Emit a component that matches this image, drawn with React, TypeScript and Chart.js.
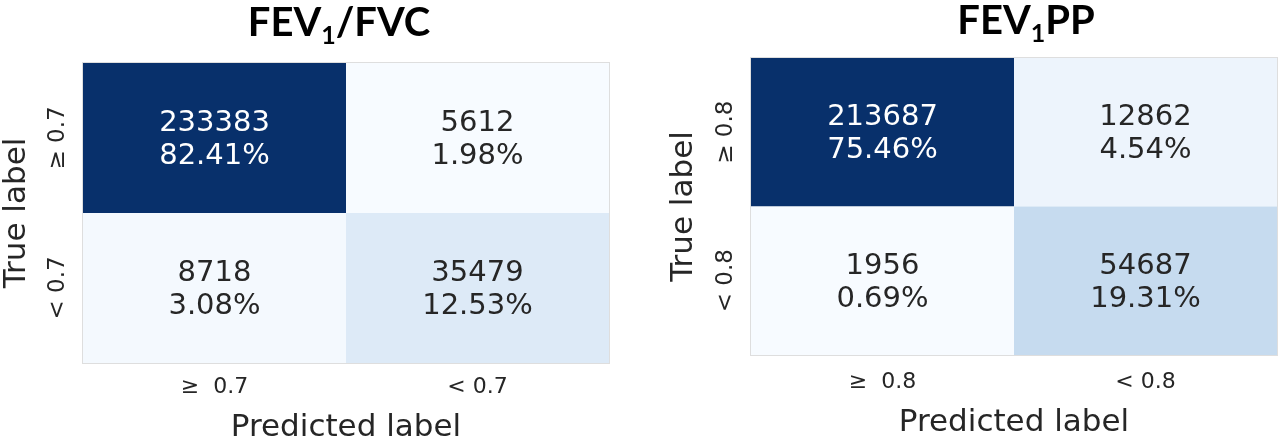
import { useEffect, useRef } from 'react';
import { Chart, registerables } from 'chart.js';

Chart.register(...registerables);

// ---- data ----
const leftTitleParts = ['FEV', '1', '/FVC'];
const rightTitleParts = ['FEV', '1', 'PP'];
const leftXLabels = ['≥  0.7', '< 0.7'];
const leftYLabels = ['≥ 0.7', '< 0.7'];
const rightXLabels = ['≥  0.8', '< 0.8'];
const rightYLabels = ['≥ 0.8', '< 0.8'];
const leftCounts = [
  [233383, 5612],
  [8718, 35479],
];
const leftPercents = [
  ['82.41%', '1.98%'],
  ['3.08%', '12.53%'],
];
const rightCounts = [
  [213687, 12862],
  [1956, 54687],
];
const rightPercents = [
  ['75.46%', '4.54%'],
  ['0.69%', '19.31%'],
];
const xAxisTitle = 'Predicted label';
const yAxisTitle = 'True label';

// ---- styles / layout ----
const BLUES = ['#f7fbff', '#deebf7', '#c6dbef', '#9ecae1', '#6baed6', '#4292c6', '#2171b5', '#08519c', '#08306b'];
const TEXT_DARK = '#262626';
const SANS = '"DejaVu Sans", sans-serif';
const TITLE_FONT = 'Lato, "Open Sans", sans-serif';

function hexToRgb(h: string) {
  const n = parseInt(h.slice(1), 16);
  return [(n >> 16) & 255, (n >> 8) & 255, n & 255];
}
function blues(t: number) {
  const tt = Math.max(0, Math.min(1, t)) * (BLUES.length - 1);
  const i = Math.min(BLUES.length - 2, Math.floor(tt));
  const f = tt - i;
  const a = hexToRgb(BLUES[i]);
  const b = hexToRgb(BLUES[i + 1]);
  const c = a.map((v, k) => v + (b[k] - v) * f);
  return { css: `rgb(${c[0].toFixed(0)},${c[1].toFixed(0)},${c[2].toFixed(0)})`, lum: (0.2126 * c[0] + 0.7152 * c[1] + 0.0722 * c[2]) / 255 };
}

type Panel = {
  titleParts: string[];
  xLabels: string[];
  yLabels: string[];
  counts: number[][];
  percents: string[][];
  padding: { left: number; top: number; right: number; bottom: number };
  titleBase: number;
  titleShift: number;
  xTickBase: number;
  xTitleBase: number;
  yTickBase: number;
  yTitleBase: number;
};

const panels: Panel[] = [
  {
    titleParts: leftTitleParts,
    xLabels: leftXLabels,
    yLabels: leftYLabels,
    counts: leftCounts,
    percents: leftPercents,
    padding: { left: 83, top: 63, right: 31, bottom: 78 },
    titleBase: 36,
    titleShift: -7,
    xTickBase: 393,
    xTitleBase: 436,
    yTickBase: 64,
    yTitleBase: 25,
  },
  {
    titleParts: rightTitleParts,
    xLabels: rightXLabels,
    yLabels: rightYLabels,
    counts: rightCounts,
    percents: rightPercents,
    padding: { left: 111, top: 58, right: 3, bottom: 86 },
    titleBase: 34,
    titleShift: 12,
    xTickBase: 388,
    xTitleBase: 431,
    yTickBase: 92,
    yTitleBase: 52,
  },
];

function heatPlugin(panel: Panel) {
  return {
    id: 'heat',
    afterDatasetsDraw(chart: any) {
      const ctx = chart.ctx as CanvasRenderingContext2D;
      const xs = chart.scales.x;
      const ys = chart.scales.y;
      const area = chart.chartArea;
      const cw = Math.abs(xs.getPixelForValue(1) - xs.getPixelForValue(0));
      const ch = Math.abs(ys.getPixelForValue(1) - ys.getPixelForValue(0));
      const all = panel.counts.flat();
      const mn = Math.min(...all);
      const mx = Math.max(...all);
      const meta = chart.getDatasetMeta(0);
      const raw = chart.data.datasets[0].data as any[];
      ctx.save();
      meta.data.forEach((el: any, i: number) => {
        const d = raw[i];
        const col = blues((d.v - mn) / (mx - mn));
        ctx.fillStyle = col.css;
        ctx.fillRect(el.x - cw / 2, el.y - ch / 2, cw, ch);
      });
      ctx.strokeStyle = '#dedede';
      ctx.lineWidth = 1;
      ctx.strokeRect(area.left - 0.5, area.top - 0.5, area.right - area.left + 1, area.bottom - area.top + 1);
      ctx.textAlign = 'center';
      ctx.textBaseline = 'alphabetic';
      ctx.font = `29px ${SANS}`;
      meta.data.forEach((el: any, i: number) => {
        const d = raw[i];
        const col = blues((d.v - mn) / (mx - mn));
        ctx.fillStyle = col.lum < 0.408 ? '#ffffff' : TEXT_DARK;
        ctx.fillText(String(d.v), el.x, el.y - 7);
        ctx.fillText(d.p, el.x, el.y + 26);
      });

      // x tick labels
      ctx.fillStyle = TEXT_DARK;
      ctx.font = `22px ${SANS}`;
      panel.xLabels.forEach((lab, i) => {
        ctx.fillText(lab, xs.getPixelForTick(i), panel.xTickBase);
      });
      // x title
      ctx.font = `31px ${SANS}`;
      ctx.fillText(xAxisTitle, (area.left + area.right) / 2, panel.xTitleBase);
      // y tick labels (rotated)
      ctx.font = `23px ${SANS}`;
      panel.yLabels.forEach((lab, i) => {
        ctx.save();
        ctx.translate(panel.yTickBase, ys.getPixelForTick(i));
        ctx.rotate(-Math.PI / 2);
        ctx.fillText(lab, 0, 0);
        ctx.restore();
      });
      // y title
      ctx.font = `31px ${SANS}`;
      ctx.save();
      ctx.translate(panel.yTitleBase, (area.top + area.bottom) / 2);
      ctx.rotate(-Math.PI / 2);
      ctx.fillText(yAxisTitle, 0, 0);
      ctx.restore();

      // title with subscript
      const mainFont = `bold 40px ${TITLE_FONT}`;
      const subFont = `bold 25px ${TITLE_FONT}`;
      const [a, s, b] = panel.titleParts;
      ctx.font = mainFont;
      const wa = ctx.measureText(a).width;
      const wb = ctx.measureText(b).width;
      ctx.font = subFont;
      const ws = ctx.measureText(s).width;
      const total = wa + ws + wb;
      let x0 = (area.left + area.right) / 2 + panel.titleShift - total / 2;
      ctx.textAlign = 'left';
      ctx.fillStyle = '#000000';
      ctx.font = mainFont;
      ctx.fillText(a, x0, panel.titleBase);
      x0 += wa;
      ctx.font = subFont;
      ctx.fillText(s, x0, panel.titleBase + 8);
      x0 += ws;
      ctx.font = mainFont;
      ctx.fillText(b, x0, panel.titleBase);
      ctx.restore();
    },
  };
}

function makeConfig(panel: Panel): any {
  const points: any[] = [];
  panel.yLabels.forEach((yl, r) => {
    panel.xLabels.forEach((xl, c) => {
      points.push({ x: xl, y: yl, v: panel.counts[r][c], p: panel.percents[r][c] });
    });
  });
  return {
    type: 'scatter',
    data: { datasets: [{ data: points, pointRadius: 0, pointHoverRadius: 0, showLine: false }] },
    options: {
      animation: false,
      responsive: false,
      events: [],
      layout: { padding: panel.padding },
      plugins: { legend: { display: false }, tooltip: { enabled: false } },
      scales: {
        x: { type: 'category', labels: panel.xLabels, offset: true, display: false },
        y: { type: 'category', labels: panel.yLabels, offset: true, display: false },
      },
    },
    plugins: [heatPlugin(panel)],
  };
}

function HeatCanvas({ panel, left }: { panel: Panel; left: number }) {
  const ref = useRef<HTMLCanvasElement | null>(null);
  useEffect(() => {
    if (!ref.current) return;
    const chart = new Chart(ref.current, makeConfig(panel));
    return () => chart.destroy();
  }, [panel]);
  return (
    <canvas
      ref={ref}
      width={640}
      height={441}
      style={{ position: 'absolute', left, top: 0, width: 640, height: 441 }}
    />
  );
}

export default function App() {
  return (
    <div style={{ position: 'absolute', left: 0, top: 0, width: 1280, height: 441, background: '#ffffff', overflow: 'hidden' }}>
      <HeatCanvas panel={panels[0]} left={0} />
      <HeatCanvas panel={panels[1]} left={640} />
    </div>
  );
}
